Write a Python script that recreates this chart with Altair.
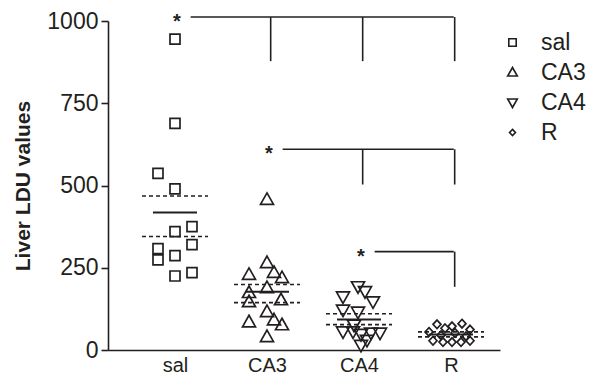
import altair as alt
import pandas as pd

# ---------------- data ----------------
groups = ["sal", "CA3", "CA4", "R"]

sal_values = [945, 689, 537, 490, 375, 360, 320, 308, 274, 287, 235, 225]
sal_jitter = [0, 0, -17, 0, 17, 0, 17, -17, -17, 0, 17, 0]

ca3_values = [457, 265, 229, 235, 219, 189, 174, 146, 152, 116, 85, 91, 76, 40]
ca3_jitter = [0, 0, -18, 7, 15, 0, -18, -18, 14, 0, -18, 7, 15, 0]

ca4_values = [193, 178, 162, 147, 122, 116, 76, 56, 56, 48, 52, 52, 30, 15]
ca4_jitter = [-1, 6, -16, 14, -16, -1, -5, -16, -6, 2, 12, 21, 8, 2]

r_values = [78, 66, 72, 80, 62, 55, 52, 45, 42, 28, 24, 24, 24, 28]
r_jitter = [-14, -6, 1, 11, 19, -22, 4, -10, 15, -18, -8, 1, 10, 19]

mean_line = [418, 177, 93, 47]
upper_line = [468, 199, 110, 55]
lower_line = [345, 144, 77, 40]

# significance brackets: start group, level, end of drops
bracket_from = [1, 2, 3]
bracket_level = [1012, 610, 299]
bracket_drop_end = [878, 503, 192]

y_ticks = [0, 250, 500, 750, 1000]

# ---------------- layout / style ----------------
W, H = 392, 329
STEP = 92.0                      # pixels per category unit
X0 = 1 - 67 / STEP
X1 = X0 + W / STEP
INK = "#231f20"
FONT = "Liberation Sans"
# symbol outlines (unit paths; scaled by the common point size)
shapes = [
    "M-1,-1L1,-1L1,1L-1,1Z",                 # square
    "M0,-1.35L1.3,0.95L-1.3,0.95Z",          # triangle up
    "M0,1.35L1.3,-0.95L-1.3,-0.95Z",         # triangle down
    "M0,-0.85L0.8,0L0,0.85L-0.8,0Z",         # diamond
]

rows = []
for gi, (vals, jit) in enumerate(
    [(sal_values, sal_jitter), (ca3_values, ca3_jitter),
     (ca4_values, ca4_jitter), (r_values, r_jitter)]):
    for v, j in zip(vals, jit):
        rows.append({"group": groups[gi], "x": gi + 1 + j / STEP, "value": v})
points_df = pd.DataFrame(rows)

stats_rows = []
for gi in range(4):
    stats_rows.append({"kind": "mean", "v": mean_line[gi],
                       "x1": gi + 1 - 22 / STEP, "x2": gi + 1 + 22 / STEP})
    for v in (upper_line[gi], lower_line[gi]):
        stats_rows.append({"kind": "sem", "v": v,
                           "x1": gi + 1 - 33 / STEP, "x2": gi + 1 + 33 / STEP})
stats_df = pd.DataFrame(stats_rows)

seg_rows, star_rows = [], []
for f, lvl, end in zip(bracket_from, bracket_level, bracket_drop_end):
    star_rows.append({"x": f + 0.02, "y": lvl})
    seg_rows.append({"x1": f + 0.17, "x2": 4.03, "y1": lvl, "y2": lvl})
    for g in range(f + 1, 5):
        seg_rows.append({"x1": g + 0.04, "x2": g + 0.04, "y1": lvl, "y2": end})
seg_df = pd.DataFrame(seg_rows)
star_df = pd.DataFrame(star_rows)

xscale = alt.Scale(domain=[X0, X1], nice=False, zero=False)
yscale = alt.Scale(domain=[0, 1000], nice=False)

label_expr = "datum.value == 1 ? 'sal' : datum.value == 2 ? 'CA3' : datum.value == 3 ? 'CA4' : 'R'"

x_axis = alt.Axis(values=[1, 2, 3, 4], labelExpr=label_expr, title=None,
                  ticks=False, labelFontSize=20, labelPadding=5)
y_axis = alt.Axis(values=y_ticks, format="d", title="Liver  LDU  values",
                  tickSize=7, labelFontSize=23, labelPadding=3,
                  titleFontSize=21, titleFontWeight="bold", titlePadding=13)

points = alt.Chart(points_df).mark_point(filled=False, strokeWidth=1.7, size=100,
                                         opacity=1).encode(
    x=alt.X("x:Q", scale=xscale, axis=x_axis),
    y=alt.Y("value:Q", scale=yscale, axis=y_axis),
    shape=alt.Shape("group:N", scale=alt.Scale(domain=groups, range=shapes),
                    legend=alt.Legend(title=None, orient="right", offset=-9, padding=10,
                                      symbolSize=55, symbolStrokeWidth=1.6,
                                      symbolStrokeColor=INK, symbolOpacity=1,
                                      labelFontSize=23, labelFont=FONT, labelColor=INK,
                                      rowPadding=6, labelOffset=17)),
    color=alt.value(INK),
)

mean_rules = alt.Chart(stats_df).transform_filter("datum.kind == 'mean'").mark_rule(
    color=INK, strokeWidth=2).encode(
    x=alt.X("x1:Q", scale=xscale), x2="x2:Q",
    y=alt.Y("v:Q", scale=yscale))

sem_rules = alt.Chart(stats_df).transform_filter("datum.kind == 'sem'").mark_rule(
    color=INK, strokeWidth=1.6, strokeDash=[4, 3]).encode(
    x=alt.X("x1:Q", scale=xscale), x2="x2:Q",
    y=alt.Y("v:Q", scale=yscale))

brackets = alt.Chart(seg_df).mark_rule(color=INK, strokeWidth=1.6).encode(
    x=alt.X("x1:Q", scale=xscale), x2="x2:Q",
    y=alt.Y("y1:Q", scale=yscale), y2="y2:Q")

stars = alt.Chart(star_df).mark_text(text="*", fontSize=20, font=FONT, fontWeight="bold",
                                     color=INK, baseline="alphabetic", dy=11).encode(
    x=alt.X("x:Q", scale=xscale), y=alt.Y("y:Q", scale=yscale))

chart = alt.layer(points, sem_rules, mean_rules, brackets, stars).properties(
    width=W, height=H,
    autosize=alt.AutoSizeParams(type="none"),
    padding={"left": 100, "top": 13, "right": 106, "bottom": 26},
    background="white",
).configure_view(stroke=None).configure_axis(
    grid=False, domainColor=INK, domainWidth=1.6, tickColor=INK, tickWidth=1.6,
    labelColor=INK, titleColor=INK, labelFont=FONT, titleFont=FONT,
)

chart.save("out.html", embed_options={"renderer": "svg", "actions": False})
